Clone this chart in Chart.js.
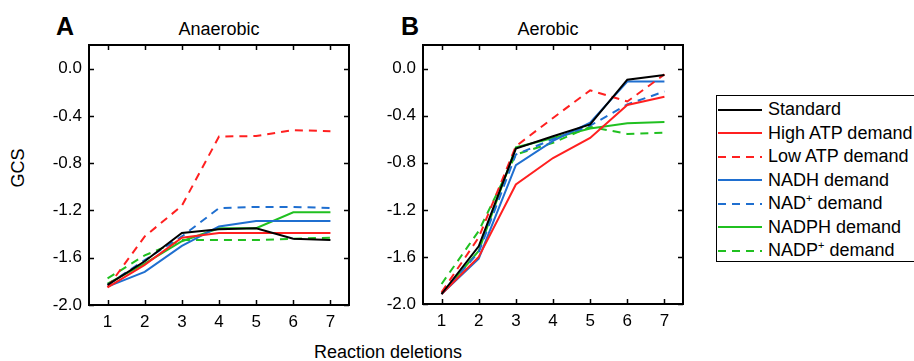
<!DOCTYPE html>
<html>
<head>
<meta charset="utf-8">
<script src="https://cdn.jsdelivr.net/npm/chart.js@4.4.1/dist/chart.umd.min.js"></script>
<style>
  html, body { margin: 0; padding: 0; background: #fff; overflow: hidden; }
  body { width: 914px; height: 361px; position: relative; font-family: "Liberation Sans", Arial, sans-serif; color: #000; }
  .abs { position: absolute; white-space: nowrap; }
  .panel { font-size: 25px; font-weight: bold; }
  .title { font-size: 18px; transform: translateX(-50%); }
  #legend { position: absolute; left: 716px; top: 95px; width: 220px; height: 167px; border: 1.5px solid #000; font-size: 18px; padding-top: 2px; box-sizing: border-box; }
  #legend .row { height: 23.5px; display: flex; align-items: center; }
  #legend svg { margin-left: 1px; margin-right: 6px; flex: none; }
  #legend sup { font-size: 11px; line-height: 0; vertical-align: 7px; }
</style>
</head>
<body>
<div class="abs panel" style="left:56px; top:12px;">A</div>
<div class="abs title" style="left:219px; top:19px;">Anaerobic</div>
<div class="abs panel" style="left:401px; top:12px;">B</div>
<div class="abs title" style="left:548px; top:19px;">Aerobic</div>
<div class="abs" style="left:18px; top:168px; font-size:18px; transform:translate(-50%,-50%) rotate(-90deg);">GCS</div>
<div class="abs title" style="left:388px; top:342px;">Reaction deletions</div>
<canvas id="chartA" class="abs" style="left:0; top:0;"></canvas>
<canvas id="chartB" class="abs" style="left:360px; top:0;"></canvas>
<div id="legend"></div>

<script>
// x categories and y ticks
var steps = ['1', '2', '3', '4', '5', '6', '7'];
var yTicks = [0, -0.4, -0.8, -1.2, -1.6, -2.0];

// A: anaerobic
var anStandard = [-1.83, -1.63, -1.39, -1.36, -1.35, -1.44, -1.45];
var anHighATP  = [-1.85, -1.66, -1.43, -1.39, -1.39, -1.39, -1.39];
var anLowATP   = [-1.85, -1.42, -1.16, -0.575, -0.57, -0.52, -0.53];
var anNADH     = [-1.845, -1.72, -1.50, -1.335, -1.29, -1.29, -1.29];
var anNAD      = [-1.83, -1.62, -1.42, -1.18, -1.17, -1.17, -1.18];
var anNADPH    = [-1.82, -1.65, -1.46, -1.35, -1.35, -1.215, -1.215];
var anNADP     = [-1.775, -1.58, -1.45, -1.45, -1.45, -1.44, -1.43];

// B: aerobic
var aeStandard = [-1.915, -1.51, -0.68, -0.575, -0.475, -0.095, -0.055];
var aeHighATP  = [-1.915, -1.60, -0.985, -0.76, -0.59, -0.31, -0.24];
var aeLowATP   = [-1.90, -1.435, -0.66, -0.42, -0.185, -0.28, -0.05];
var aeNADH     = [-1.915, -1.615, -0.82, -0.615, -0.46, -0.11, -0.11];
var aeNAD      = [-1.915, -1.56, -0.73, -0.60, -0.485, -0.305, -0.195];
var aeNADPH    = [-1.915, -1.55, -0.67, -0.59, -0.51, -0.465, -0.455];
var aeNADP     = [-1.83, -1.38, -0.73, -0.63, -0.495, -0.555, -0.545];

var seriesNames = ['Standard', 'High ATP demand', 'Low ATP demand', 'NADH demand',
                   'NAD<sup>+</sup> demand', 'NADPH demand', 'NADP<sup>+</sup> demand'];
var seriesColors = ['#000000', '#ff2020', '#ff2020', '#1f6fd0', '#1f6fd0', '#20c020', '#20c020'];
var seriesDashed = [false, false, true, false, true, false, true];

Chart.defaults.font.family = '"Liberation Sans", Arial, sans-serif';
Chart.defaults.color = '#000';

/* box with inward ticks on all four sides */
var boxTicks = {
    id: 'boxTicks',
    afterDatasetsDraw: function(chart){
        var ctx = chart.ctx, a = chart.chartArea;
        var x = chart.scales.x, y = chart.scales.y;
        ctx.save();
        ctx.strokeStyle = '#000';
        ctx.lineWidth = 1.5;
        ctx.beginPath();
        x.ticks.forEach(function(t, i){
            var px = Math.round(x.getPixelForTick(i)) + 0.5;
            ctx.moveTo(px, a.bottom); ctx.lineTo(px, a.bottom - 5);
            ctx.moveTo(px, a.top); ctx.lineTo(px, a.top + 5);
        });
        y.ticks.forEach(function(t){
            var py = Math.round(y.getPixelForValue(t.value)) + 0.5;
            ctx.moveTo(a.left, py); ctx.lineTo(a.left + 5, py);
            ctx.moveTo(a.right, py); ctx.lineTo(a.right - 5, py);
        });
        ctx.stroke();
        ctx.lineWidth = 2;
        ctx.strokeRect(a.left, a.top, a.right - a.left, a.bottom - a.top);
        ctx.restore();
    }
};

function makeChart(id, w, yWidth, xHeight, padRight, series){
    var canvas = document.getElementById(id);
    canvas.width = w; canvas.height = 361;
    canvas.style.width = w + 'px'; canvas.style.height = '361px';
    return new Chart(canvas, {
        type: 'line',
        data: {
            labels: steps,
            datasets: series.map(function(vals, i){
                return {
                    label: seriesNames[i].replace(/<\/?sup>/g, ''),
                    data: vals,
                    borderColor: seriesColors[i],
                    borderWidth: 2,
                    borderDash: seriesDashed[i] ? [8, 6] : [],
                    pointRadius: 0,
                    tension: 0,
                    fill: false
                };
            })
        },
        options: {
            responsive: false,
            animation: false,
            devicePixelRatio: 1,
            layout: { padding: { top: 45, right: padRight, left: 0, bottom: 0 } },
            plugins: { legend: { display: false }, tooltip: { enabled: false } },
            scales: {
                x: {
                    type: 'category',
                    offset: true,
                    grid: { display: false, drawTicks: false },
                    border: { display: false },
                    ticks: { font: { size: 17 }, padding: 7, maxRotation: 0 },
                    afterFit: function(s){ s.height = xHeight; }
                },
                y: {
                    min: -2.0, max: 0.2,
                    grid: { display: false, drawTicks: false },
                    border: { display: false },
                    ticks: {
                        font: { size: 17 }, padding: 7,
                        callback: function(v){ return v.toFixed(1); }
                    },
                    afterBuildTicks: function(s){
                        s.ticks = yTicks.map(function(v){ return { value: v }; });
                    },
                    afterFit: function(s){ s.width = yWidth; }
                }
            }
        },
        plugins: [boxTicks]
    });
}

makeChart('chartA', 360, 89, 56, 11,
    [anStandard, anHighATP, anLowATP, anNADH, anNAD, anNADPH, anNADP]);
makeChart('chartB', 340, 63, 57, 17,
    [aeStandard, aeHighATP, aeLowATP, aeNADH, aeNAD, aeNADPH, aeNADP]);

/* legend */
var $legend = document.getElementById('legend');
seriesNames.forEach(function(name, i){
    var dash = seriesDashed[i] ? ' stroke-dasharray="8,6"' : '';
    var row = document.createElement('div');
    row.className = 'row';
    row.innerHTML = '<svg width="44" height="4"><line x1="0" y1="2" x2="44" y2="2" stroke="' +
        seriesColors[i] + '" stroke-width="2"' + dash + '/></svg><span>' + name + '</span>';
    $legend.appendChild(row);
});
</script>
</body>
</html>
